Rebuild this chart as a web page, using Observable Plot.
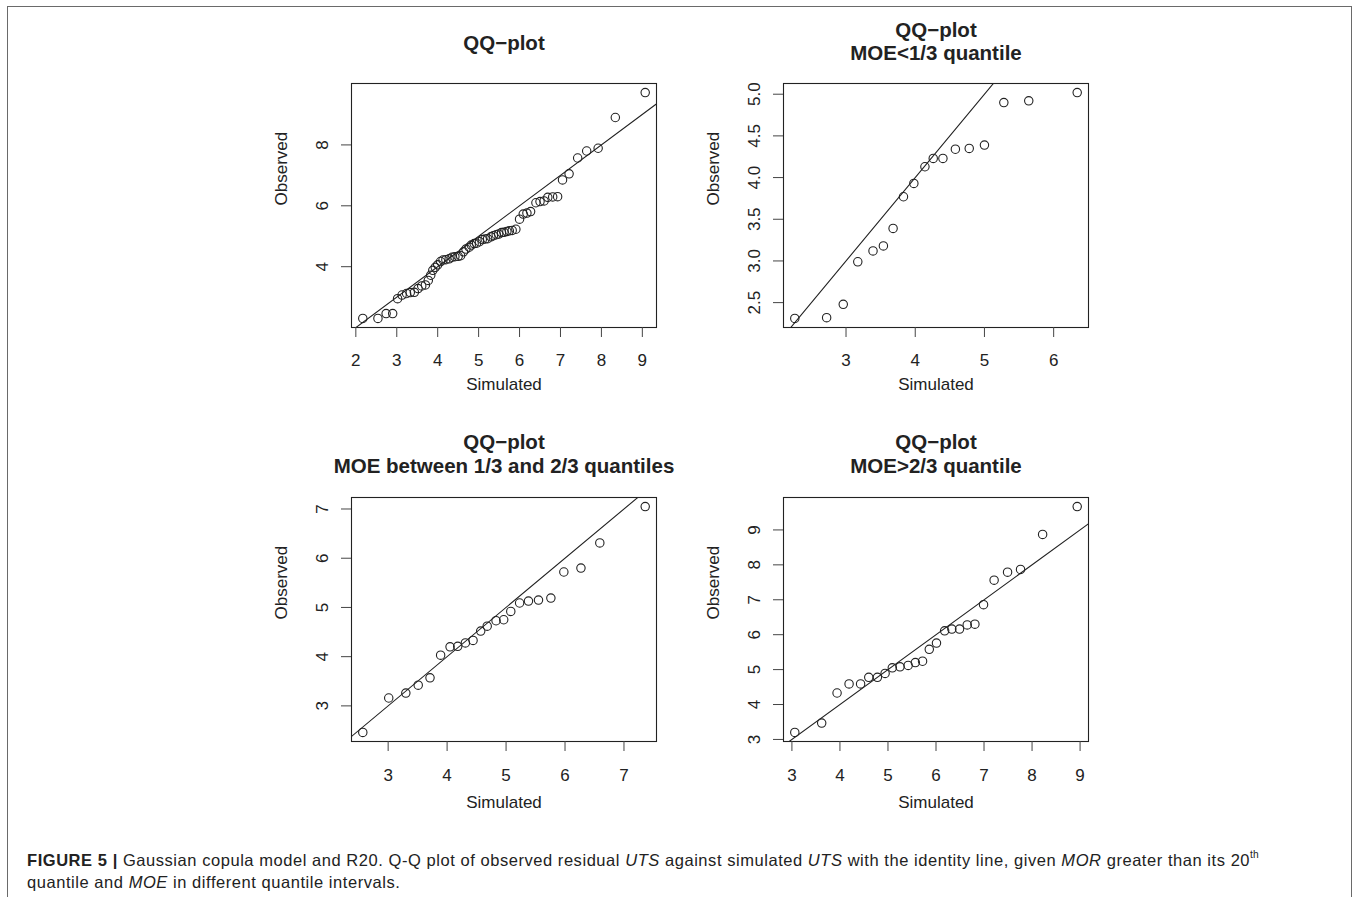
<!DOCTYPE html>
<html><head><meta charset="utf-8">
<script src="https://cdn.jsdelivr.net/npm/d3@7"></script>
<script src="https://cdn.jsdelivr.net/npm/@observablehq/plot@0.6"></script>
<style>
body{margin:0;background:#fff;}
#page{position:relative;width:1356px;height:897px;overflow:hidden;font-family:"Liberation Sans",Arial,Helvetica,sans-serif;background:#fff;}
#border{position:absolute;left:7px;top:6px;width:1345px;height:1000px;border:1px solid #6a6a6a;box-sizing:border-box;}
.panel{position:absolute;}
#caption{position:absolute;left:27px;top:849px;font-size:16.5px;letter-spacing:0.55px;line-height:22px;color:#222;white-space:nowrap;}
#caption sup{font-size:0.62em;line-height:0;vertical-align:0.75em;letter-spacing:0;}
</style></head>
<body>
<div id="page">
<div id="border"></div>
<div id="p1" class="panel"></div>
<div id="p2" class="panel"></div>
<div id="p3" class="panel"></div>
<div id="p4" class="panel"></div>
<div id="caption"><b>FIGURE 5 |</b> Gaussian copula model and R20. Q-Q plot of observed residual <i>UTS</i> against simulated <i>UTS</i> with the identity line, given <i>MOR</i> greater than its 20<sup>th</sup><br>quantile and <i>MOE</i> in different quantile intervals.</div>
</div>
<script>
// ---- Data ----
const p1Sim = [2.17,2.54,2.74,2.90,3.02,3.13,3.24,3.33,3.43,3.52,3.61,3.70,3.77,3.83,3.88,3.94,4.00,4.07,4.13,4.20,4.28,4.35,4.42,4.50,4.56,4.63,4.69,4.77,4.82,4.89,4.95,5.02,5.09,5.16,5.22,5.30,5.36,5.43,5.49,5.56,5.62,5.69,5.75,5.82,5.91,6.00,6.09,6.18,6.27,6.40,6.50,6.60,6.69,6.81,6.93,7.05,7.21,7.42,7.64,7.92,8.34,9.07];
const p1Obs = [2.30,2.30,2.46,2.46,2.95,3.07,3.12,3.15,3.16,3.28,3.37,3.40,3.55,3.72,3.88,3.98,4.06,4.17,4.22,4.23,4.26,4.31,4.33,4.34,4.36,4.49,4.58,4.64,4.71,4.76,4.77,4.82,4.89,4.91,4.92,4.98,5.02,5.05,5.07,5.12,5.13,5.16,5.18,5.19,5.23,5.56,5.73,5.76,5.81,6.10,6.14,6.16,6.28,6.29,6.30,6.85,7.05,7.57,7.80,7.89,8.90,9.72];

const p2Sim = [2.26,2.72,2.96,3.17,3.39,3.54,3.68,3.83,3.98,4.14,4.26,4.40,4.58,4.78,5.00,5.28,5.64,6.34];
const p2Obs = [2.31,2.32,2.48,2.99,3.12,3.18,3.39,3.77,3.93,4.13,4.23,4.23,4.34,4.35,4.39,4.90,4.92,5.02];

const p3Sim = [2.57,3.01,3.30,3.51,3.71,3.89,4.05,4.18,4.31,4.44,4.57,4.68,4.83,4.96,5.08,5.23,5.38,5.55,5.76,5.98,6.27,6.59,7.36];
const p3Obs = [2.46,3.16,3.26,3.42,3.57,4.03,4.20,4.21,4.28,4.33,4.52,4.62,4.73,4.75,4.92,5.09,5.13,5.15,5.19,5.72,5.80,6.31,7.05];

const p4Sim = [3.06,3.62,3.94,4.19,4.43,4.60,4.78,4.94,5.09,5.25,5.42,5.57,5.72,5.86,6.01,6.18,6.33,6.49,6.65,6.81,6.99,7.21,7.49,7.76,8.22,8.94];
const p4Obs = [3.20,3.47,4.33,4.59,4.59,4.78,4.78,4.89,5.05,5.08,5.12,5.20,5.24,5.58,5.76,6.11,6.16,6.16,6.28,6.30,6.86,7.56,7.79,7.87,8.87,9.67];

const p1XTicks = [2,3,4,5,6,7,8,9];
const p1YTicks = [4,6,8];
const p2XTicks = [3,4,5,6];
const p2YTicks = [2.5,3.0,3.5,4.0,4.5,5.0];
const p3XTicks = [3,4,5,6,7];
const p3YTicks = [3,4,5,6,7];
const p4XTicks = [3,4,5,6,7,8,9];
const p4YTicks = [3,4,5,6,7,8,9];

const p1Title = ["QQ\u2212plot"];
const p2Title = ["QQ\u2212plot", "MOE<1/3 quantile"];
const p3Title = ["QQ\u2212plot", "MOE between 1/3 and 2/3 quantiles"];
const p4Title = ["QQ\u2212plot", "MOE>2/3 quantile"];
const xLabel = "Simulated";
const yLabel = "Observed";

// ---- Drawing ----
const INK = "#222";
const FONT = "'Liberation Sans', Arial, Helvetica, sans-serif";

function rRange(a) { // R's default 4% axis extension
  const [lo, hi] = d3.extent(a);
  const r = hi - lo;
  return [lo - 0.04 * r, hi + 0.04 * r];
}

function panel(el, sim, obs, xTicks, yTicks, yFmt, titles, pos, shift) {
  const mL = 100, mT = 80, mR = 25, mB = 76, W = 305, H = 244;
  const xd = rRange(sim), yd = rRange(obs);
  const pts = sim.map((s, i) => ({sim: s, obs: obs[i]}));
  const ident = [Math.min(xd[0], yd[0]), Math.max(xd[1], yd[1])].map(v => ({v}));
  const tStyle = {text: d => d, frameAnchor: "top", lineAnchor: "bottom", fontWeight: "bold", fontSize: 20.5, fill: INK};
  const titleMarks = titles.length === 1
    ? [Plot.text(titles, {...tStyle, dy: -34})]
    : [Plot.text([titles[0]], {...tStyle, dy: -47 - shift.title}),
       Plot.text([titles[1]], {...tStyle, dy: -23.5 - shift.title})];
  const chart = Plot.plot({
    width: W + mL + mR, height: H + mT + mB,
    marginLeft: mL, marginTop: mT, marginRight: mR, marginBottom: mB,
    x: {domain: xd}, y: {domain: yd},
    style: {fontFamily: FONT, fontSize: "17px", color: INK, background: "transparent", overflow: "visible"},
    marks: [
      Plot.line(ident, {x: "v", y: "v", stroke: INK, strokeWidth: 1.1, clip: true}),
      Plot.dot(pts, {x: "sim", y: "obs", r: 4.2, stroke: INK, strokeWidth: 1.1, fill: "none"}),
      Plot.frame({stroke: INK, strokeWidth: 1.1}),
      Plot.axisX({ticks: xTicks, tickFormat: d3.format("d"), tickSize: 10, tickPadding: 16 + shift.xtick, label: null, fontSize: 17, stroke: "#444"}),
      Plot.axisY({ticks: yTicks, tickSize: 10, tickPadding: 14, tickRotate: -90, tickFormat: yFmt, label: null, fontSize: 17, stroke: "#444"}),
      Plot.text([xLabel], {text: d => d, frameAnchor: "bottom", dy: 62 + shift.xlab, lineAnchor: "bottom", fontSize: 17, fill: INK}),
      Plot.text([yLabel], {text: d => d, frameAnchor: "left", dx: -65, rotate: -90, lineAnchor: "bottom", fontSize: 17, fill: INK}),
      ...titleMarks
    ]
  });
  const box = document.getElementById(el);
  box.style.left = (pos[0] - mL) + "px";
  box.style.top = (pos[1] - mT) + "px";
  box.appendChild(chart);
}

const intFmt = d3.format("d");
const oneDec = d3.format(".1f");
const topShift = {title: 0, xtick: 0, xlab: 0};
const botShift = {title: 1.5, xtick: 1, xlab: 4};
panel("p1", p1Sim, p1Obs, p1XTicks, p1YTicks, intFmt, p1Title, [351, 83], topShift);
panel("p2", p2Sim, p2Obs, p2XTicks, p2YTicks, oneDec, p2Title, [783, 83], topShift);
panel("p3", p3Sim, p3Obs, p3XTicks, p3YTicks, intFmt, p3Title, [351, 497], botShift);
panel("p4", p4Sim, p4Obs, p4XTicks, p4YTicks, intFmt, p4Title, [783, 497], botShift);
</script>
</body></html>
